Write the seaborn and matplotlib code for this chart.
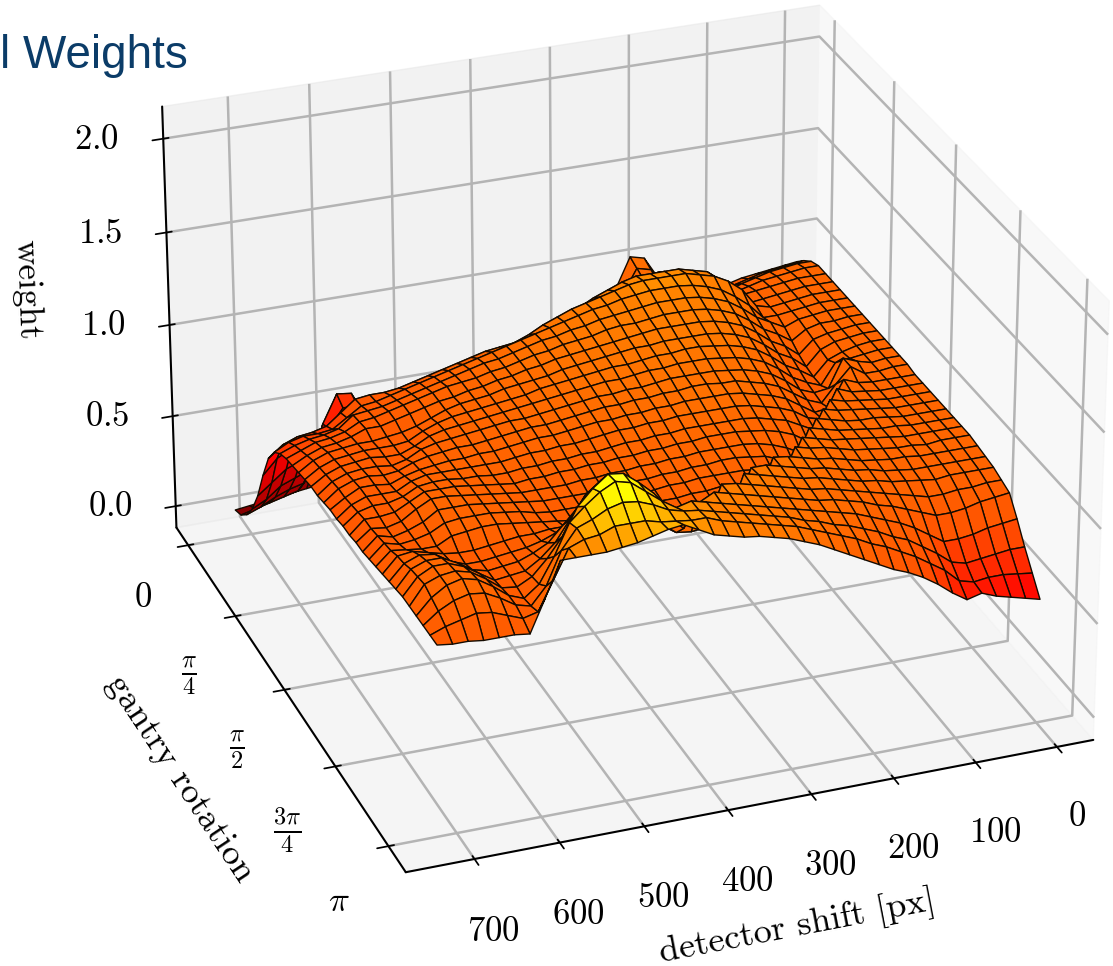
import numpy as np
import seaborn as sns
import matplotlib.pyplot as plt
from matplotlib.colors import FuncNorm

shift_ticks = [0, 100, 200, 300, 400, 500, 600, 700]
rot_ticks = [0, np.pi / 4, np.pi / 2, 3 * np.pi / 4, np.pi]
rot_labels = ['$0$', r'$\frac{\pi}{4}$', r'$\frac{\pi}{2}$', r'$\frac{3\pi}{4}$', r'$\pi$']
weight_ticks = [0.0, 0.5, 1.0, 1.5, 2.0]

# columns: detector shift in steps of 18 px, rows: gantry rotation in steps of pi/32
weights = [
    [.88,.87,.86,.85,.84,.82,.8,.78,.72,.74,.92,1.04,1.06,.9,.7,.58,.5,.45,.4,.36,.32,.29,.26,.24,.22,.2,.19,.17,.16,.14,.13,.12,.11,.1,.09,.08,.07,.06,.05,.04,.03],
    [.93,.92,.91,.9,.88,.86,.85,.81,.76,.78,.92,1.02,1.04,.91,.74,.64,.56,.5,.45,.41,.37,.34,.31,.29,.27,.25,.23,.21,.2,.18,.17,.16,.22,.3,.3,.22,.13,.11,.09,.07,.05],
    [.97,.97,.96,.95,.93,.91,.88,.85,.82,.84,.93,1.0,1.02,.94,.8,.71,.64,.58,.53,.49,.45,.42,.39,.37,.35,.33,.31,.3,.28,.27,.26,.28,.45,.6,.6,.42,.22,.2,.17,.13,.1],
    [.99,.99,.98,.97,.96,.94,.92,.9,.9,.94,1.02,1.06,1.07,1.02,.9,.8,.73,.67,.62,.58,.54,.5,.47,.45,.43,.41,.4,.39,.38,.38,.38,.42,.58,.72,.73,.58,.34,.31,.28,.22,.18],
    [.99,.99,.99,.98,.97,.96,.95,.95,.98,1.08,1.12,1.14,1.15,1.14,1.12,1.08,1.0,.88,.78,.72,.67,.63,.6,.57,.55,.53,.52,.52,.52,.52,.53,.56,.6,.7,.7,.6,.48,.45,.42,.36,.3],
    [.99,.99,.99,.98,.97,.96,.95,.98,1.1,1.16,1.18,1.2,1.2,1.2,1.2,1.18,1.15,1.12,1.08,1.04,.98,.94,.9,.86,.82,.78,.74,.72,.72,.72,.72,.72,.72,.74,.74,.7,.62,.6,.58,.54,.46],
    [.99,.99,.99,.98,.97,.96,.98,1.08,1.14,1.18,1.2,1.22,1.22,1.22,1.22,1.21,1.19,1.17,1.15,1.13,1.1,1.07,1.03,1.0,.99,.98,.96,.94,.92,.9,.88,.86,.85,.85,.84,.78,.72,.7,.69,.66,.6],
    [.99,.99,.99,.98,.97,.96,.96,1.04,1.1,1.15,1.18,1.2,1.21,1.21,1.21,1.2,1.19,1.17,1.16,1.14,1.12,1.1,1.08,1.06,1.04,1.02,1.0,.98,.96,.94,.92,.9,.88,.86,.85,.8,.75,.74,.74,.72,.68],
    [.99,.99,.99,.98,.97,.94,.98,1.02,1.08,1.13,1.16,1.18,1.19,1.19,1.19,1.18,1.17,1.16,1.15,1.13,1.12,1.1,1.09,1.07,1.05,1.03,1.02,1.0,.98,.96,.94,.92,.9,.88,.87,.86,.8,.78,.77,.75,.72],
    [.99,.99,.98,.98,.96,.91,.96,1.0,1.06,1.11,1.14,1.16,1.17,1.17,1.17,1.16,1.15,1.15,1.14,1.12,1.11,1.1,1.08,1.07,1.05,1.03,1.02,1.0,.99,.98,.96,.94,.92,.9,.88,.87,.83,.81,.8,.77,.74],
    [.99,.99,.98,.97,.95,.88,.94,.98,1.04,1.09,1.12,1.14,1.15,1.15,1.15,1.15,1.14,1.13,1.12,1.11,1.1,1.09,1.08,1.06,1.05,1.03,1.02,1.0,.99,.97,.96,.94,.92,.9,.88,.88,.85,.83,.82,.79,.75],
    [.99,.99,.98,.97,.94,.86,.92,.96,1.02,1.07,1.1,1.12,1.13,1.13,1.13,1.13,1.12,1.12,1.11,1.1,1.09,1.08,1.07,1.05,1.04,1.03,1.02,1.0,.99,.98,.96,.93,.9,.88,.87,.86,.86,.85,.84,.81,.76],
    [.99,.99,.98,.96,.93,.85,.9,.94,1.0,1.05,1.08,1.1,1.11,1.12,1.12,1.11,1.11,1.1,1.09,1.09,1.08,1.07,1.06,1.05,1.04,1.02,1.01,1.0,.99,.98,.97,.95,.92,.88,.87,.87,.87,.86,.85,.82,.77],
    [.99,.99,.98,.97,.96,.85,.88,.92,.98,1.03,1.06,1.08,1.09,1.1,1.1,1.1,1.09,1.09,1.08,1.07,1.07,1.06,1.05,1.04,1.03,1.02,1.01,1.0,.99,.98,.97,.96,.94,.9,.87,.87,.88,.87,.86,.83,.78],
    [.99,.99,.98,1.0,1.03,.88,.87,.9,.96,1.01,1.04,1.06,1.07,1.08,1.08,1.08,1.08,1.07,1.06,1.06,1.05,1.05,1.04,1.03,1.02,1.01,1.0,1.0,.99,.98,.97,.96,.95,.93,.89,.87,.88,.88,.87,.84,.78],
    [.99,.99,.98,.98,1.03,.95,.86,.89,.94,.99,1.02,1.04,1.06,1.06,1.07,1.07,1.06,1.06,1.05,1.05,1.04,1.04,1.03,1.02,1.01,1.0,1.0,.99,.98,.97,.96,.96,.95,.94,.92,.89,.88,.89,.88,.85,.79],
    [.98,.98,.98,.98,.99,1.02,.88,.87,.92,.97,1.0,1.02,1.04,1.05,1.05,1.05,1.05,1.04,1.04,1.03,1.03,1.02,1.02,1.01,1.0,.99,.99,.98,.97,.96,.96,.95,.95,.94,.93,.91,.88,.89,.89,.85,.8],
    [.98,.98,.98,.98,.99,1.0,1.03,.88,.9,.95,.98,1.0,1.02,1.03,1.03,1.03,1.03,1.03,1.02,1.02,1.01,1.01,1.0,.99,.98,.98,.97,.97,.96,.95,.95,.95,.95,.95,.95,.93,.89,.89,.89,.86,.8],
    [.98,.98,.98,.98,.99,1.0,1.01,1.03,.88,.92,.96,.98,1.0,1.01,1.01,1.01,1.01,1.01,1.0,1.0,.99,.99,.98,.97,.97,.96,.96,.95,.95,.94,.94,.95,.95,.96,.96,.95,.91,.89,.89,.87,.81],
    [.98,.98,.98,.98,.99,1.0,1.01,1.02,1.04,.88,.93,.96,.98,.99,1.0,1.0,1.0,.99,.99,.98,.98,.97,.97,.96,.96,.95,.95,.94,.94,.93,.94,.95,.96,.97,.97,.97,.93,.89,.88,.88,.81],
    [.98,.98,.98,.98,.99,1.0,1.0,1.01,1.03,1.05,.88,.92,.95,.97,.98,.98,.98,.98,.97,.97,.96,.96,.95,.95,.94,.94,.93,.93,.93,.93,.94,.95,.96,.97,.98,.98,.94,.89,.87,.88,.82],
    [.98,.98,.98,.98,.99,.99,1.0,1.01,1.02,1.04,1.06,.88,.92,.95,.96,.97,.97,.96,.96,.95,.95,.94,.94,.93,.93,.92,.92,.92,.92,.93,.94,.95,.96,.97,.97,.97,.92,.89,.87,.89,.82],
    [.98,.98,.98,.98,.98,.99,1.0,1.01,1.02,1.03,1.05,1.07,.9,.92,.94,.95,.95,.95,.95,.94,.94,.93,.92,.92,.91,.91,.91,.91,.91,.92,.94,.95,.96,.96,.96,.95,.91,.89,.88,.9,.83],
    [.98,.98,.98,.97,.98,.98,.99,1.0,1.01,1.03,1.05,1.06,1.08,.9,.92,.93,.94,.94,.93,.93,.92,.92,.91,.9,.9,.9,.9,.9,.91,.92,.93,.94,.95,.95,.94,.93,.89,.89,.9,.91,.84],
    [.97,.97,.97,.97,.97,.98,.98,.99,1.0,1.02,1.04,1.05,1.07,1.09,1.1,.9,.91,.92,.92,.92,.91,.9,.9,.89,.89,.9,.91,.92,.93,.93,.92,.92,.91,.9,.89,.89,.9,.92,.94,.93,.85],
    [.96,.96,.96,.96,.96,.96,.97,.98,1.0,1.01,1.03,1.05,1.06,1.08,1.1,1.12,1.12,.92,.91,.91,.91,.9,.9,.9,.93,.98,1.02,1.02,.99,.96,.93,.91,.9,.89,.88,.88,.91,.96,.97,.94,.86],
    [.95,.95,.95,.95,.94,.95,.96,.97,.99,1.0,1.02,1.04,1.06,1.07,1.09,1.11,1.13,1.15,.94,.92,.92,.92,.93,.98,1.08,1.14,1.18,1.18,1.13,1.05,.97,.93,.9,.89,.88,.9,.95,.99,.99,.96,.87],
    [.93,.93,.92,.92,.91,.91,.93,.95,.97,.99,1.01,1.03,1.05,1.06,1.08,1.1,1.12,1.14,1.16,1.17,.96,.95,.96,1.02,1.15,1.25,1.3,1.3,1.24,1.13,1.02,.95,.9,.89,.88,.93,.98,1.01,1.01,.97,.88],
    [.91,.9,.89,.87,.86,.86,.89,.92,.95,.97,1.0,1.02,1.04,1.05,1.07,1.09,1.11,1.13,1.15,1.17,1.19,1.15,1.03,1.1,1.24,1.31,1.37,1.38,1.32,1.24,1.1,1.0,.92,.88,.89,.95,1.0,1.02,1.01,.98,.88],
    [.82,.81,.8,.78,.77,.77,.82,.87,.91,.94,.97,1.0,1.02,1.04,1.06,1.08,1.1,1.12,1.14,1.16,1.18,1.2,1.22,1.2,1.25,1.31,1.37,1.39,1.35,1.29,1.22,1.06,.93,.87,.9,.96,1.01,1.03,1.01,.96,.88],
    [.72,.72,.71,.7,.69,.71,.77,.82,.87,.9,.94,.97,1.0,1.02,1.05,1.07,1.1,1.12,1.14,1.16,1.18,1.2,1.22,1.23,1.25,1.29,1.32,1.33,1.31,1.27,1.24,1.14,.97,.88,.9,.95,.99,1.0,.98,.94,.88],
    [.63,.64,.65,.65,.64,.66,.73,.78,.83,.87,.91,.94,.98,1.01,1.04,1.07,1.1,1.12,1.14,1.16,1.18,1.2,1.23,1.23,1.24,1.25,1.27,1.27,1.27,1.24,1.23,1.2,1.05,.9,.88,.91,.94,.95,.93,.91,.88],
    [.54,.56,.58,.6,.63,.61,.66,.72,.77,.81,.84,.88,.92,.96,1.0,1.04,1.07,1.1,1.12,1.14,1.15,1.17,1.19,1.23,1.27,1.26,1.24,1.22,1.21,1.2,1.2,1.2,1.2,1.02,.85,.86,.86,.86,.87,.87,.88],
]
weights = np.array(weights)
shifts = np.arange(weights.shape[1]) * 18
rotations = np.arange(weights.shape[0]) * np.pi / 32
X, Y = np.meshgrid(shifts, rotations)

# the colours of the surface do not run evenly with the weight
weight_knots = [-0.6, 0.0, 0.55, 0.8, 1.0, 1.2, 1.3, 1.38, 3.0]
colour_knots = [0.0, 0.17, 0.36, 0.49, 0.52, 0.56, 0.68, 0.77, 1.0]
norm = FuncNorm((lambda v: np.interp(v, weight_knots, colour_knots),
                 lambda v: np.interp(v, colour_knots, weight_knots)), vmin=-0.6, vmax=3.0)

sns.set_theme(style='white')
plt.rcParams['mathtext.fontset'] = 'cm'
plt.rcParams['font.family'] = ['cmr10', 'DejaVu Serif']
plt.rcParams['axes.formatter.use_mathtext'] = True
plt.rcParams['axes.unicode_minus'] = False
plt.rcParams['grid.color'] = '#b4b4b4'
plt.rcParams['grid.linewidth'] = 1.8
plt.rcParams['axes.edgecolor'] = 'black'
plt.rcParams['axes.linewidth'] = 1.5
plt.rcParams['axes.labelcolor'] = 'black'
plt.rcParams['text.color'] = 'black'
plt.rcParams['xtick.color'] = 'black'
plt.rcParams['ytick.color'] = 'black'

fig = plt.figure(figsize=(11.13, 9.66), dpi=100)
ax = fig.add_axes([0.016, 0.001, 1.06, 1.1], projection='3d')
ax.set_proj_type('persp', focal_length=1.2)
ax.view_init(elev=27.5, azim=69.5)
ax.set_box_aspect((1, 1.03, 0.675), zoom=1.04)
ax.plot_surface(X, Y, weights, rstride=1, cstride=1, cmap=sns.color_palette('hot', as_cmap=True),
                norm=norm, edgecolor='#140a00', linewidth=1.0, shade=True)
ax.set_xlim(-45, 780)
ax.set_ylim(-0.2, np.pi + 0.25)
ax.set_zlim(-0.12, 2.17)
ax.set_xticks(shift_ticks)
ax.set_yticks(rot_ticks, rot_labels)
ax.set_zticks(weight_ticks)
ax.tick_params(labelsize=25)
ax.tick_params(axis='x', pad=20)
ax.tick_params(axis='y', pad=20)
ax.tick_params(axis='z', pad=22)
ax.set_xlabel('detector shift [px]', fontsize=26, labelpad=40)
ax.set_ylabel('gantry rotation', fontsize=26, labelpad=42)
ax.set_zlabel('weight', fontsize=25, labelpad=44)
fig.text(0.0, 0.93, 'l Weights', family='Liberation Sans', fontsize=33, color='#0b3c68')
fig.savefig('out.png', dpi=100)
